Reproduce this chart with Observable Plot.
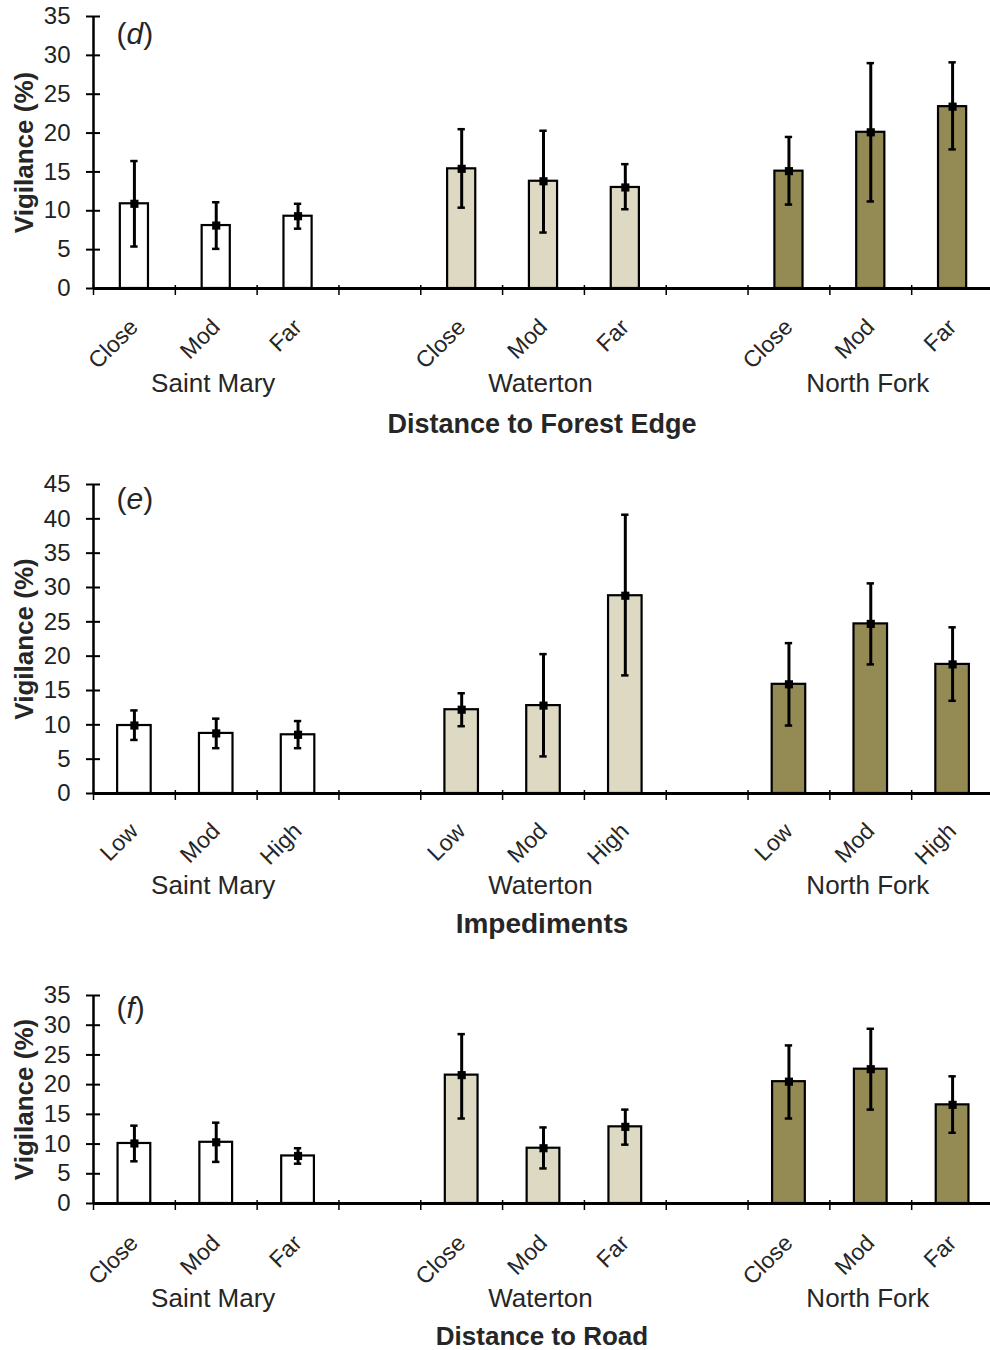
<!DOCTYPE html>
<html><head><meta charset="utf-8">
<script src="https://cdn.jsdelivr.net/npm/d3@7"></script>
<script src="https://cdn.jsdelivr.net/npm/@observablehq/plot@0.6"></script>
<style>
body{margin:0;background:#fff;}
#wrap{position:relative;width:990px;height:1350px;overflow:hidden;background:#fff;}
#wrap svg{position:absolute;left:0;}
</style></head><body><div id="wrap"></div>
<script>
const sites = ["Saint Mary", "Waterton", "North Fork"];
const siteColors = ["#ffffff", "#ddd9c3", "#948a54"];
const levelsDistance = ["Close", "Mod", "Far"];
const levelsImpediment = ["Low", "Mod", "High"];

// (d) Distance to Forest Edge
const meanForest  = [10.9, 8.1, 9.3, 15.4, 13.8, 13.0, 15.1, 20.1, 23.4];
const upperForest = [16.4, 11.1, 10.9, 20.5, 20.3, 16.0, 19.5, 29.0, 29.1];
const lowerForest = [5.4, 5.1, 7.7, 10.4, 7.2, 10.2, 10.8, 11.2, 17.9];
const ticksForest = [0, 5, 10, 15, 20, 25, 30, 35];

// (e) Impediments
const meanImp  = [9.9, 8.75, 8.55, 12.2, 12.8, 28.8, 15.9, 24.7, 18.8];
const upperImp = [12.1, 10.9, 10.55, 14.6, 20.3, 40.6, 21.9, 30.6, 24.2];
const lowerImp = [7.8, 6.6, 6.6, 9.8, 5.4, 17.2, 9.9, 18.8, 13.5];
const ticksImp = [0, 5, 10, 15, 20, 25, 30, 35, 40, 45];

// (f) Distance to Road
const meanRoad  = [10.1, 10.3, 8.0, 21.6, 9.3, 12.9, 20.5, 22.6, 16.6];
const upperRoad = [13.1, 13.6, 9.3, 28.5, 12.8, 15.8, 26.6, 29.4, 21.4];
const lowerRoad = [7.1, 7.0, 6.7, 14.3, 5.9, 9.9, 14.3, 15.8, 11.9];
const ticksRoad = [0, 5, 10, 15, 20, 25, 30, 35];

const panels = [
  {letter: "d", title: "Distance to Forest Edge", titleSize: 27, levels: levelsDistance,
   mean: meanForest, hi: upperForest, lo: lowerForest, ticks: ticksForest,
   top: 0, height: 450, marginTop: 16, marginBottom: 162, half: 0.172,
   catDy: 40, groupDy: 103, titleDy: 144, letterDy: 27},
  {letter: "e", title: "Impediments", titleSize: 28, levels: levelsImpediment,
   mean: meanImp, hi: upperImp, lo: lowerImp, ticks: ticksImp,
   top: 450, height: 500, marginTop: 34, marginBottom: 157, half: 0.205,
   catDy: 39, groupDy: 100, titleDy: 139, letterDy: 24},
  {letter: "f", title: "Distance to Road", titleSize: 26, levels: levelsDistance,
   mean: meanRoad, hi: upperRoad, lo: lowerRoad, ticks: ticksRoad,
   top: 950, height: 400, marginTop: 45, marginBottom: 147, half: 0.2,
   catDy: 41, groupDy: 103, titleDy: 141, letterDy: 22}
];

const wrap = document.getElementById("wrap");
const cap = 0.045;
const textColor = "#262626";

for (const cfg of panels) {
  const rows = cfg.mean.map((m, i) => ({
    site: sites[Math.floor(i / 3)],
    level: cfg.levels[i % 3],
    slot: Math.floor(i / 3) * 4 + (i % 3),
    mean: m, lo: cfg.lo[i], hi: cfg.hi[i]
  }));
  const groups = sites.map((s, k) => ({site: s, slot: k * 4 + 1}));
  const c = d => d.slot + 0.5;
  const yMax = cfg.ticks[cfg.ticks.length - 1];
  const letterText = `(${cfg.letter})`;

  const svg = Plot.plot({
    width: 990, height: cfg.height,
    marginLeft: 93, marginRight: 0, marginTop: cfg.marginTop, marginBottom: cfg.marginBottom,
    style: {fontFamily: "'Liberation Sans', Arial, sans-serif", fontSize: "24px", color: "#222", background: "white", overflow: "visible"},
    x: {domain: [0, 11], range: [93, 993], label: null},
    y: {domain: [0, yMax], label: null},
    color: {domain: sites, range: siteColors},
    marks: [
      Plot.rect(rows, {x1: d => c(d) - cfg.half, x2: d => c(d) + cfg.half, y1: d => 0, y2: "mean", fill: "site", stroke: "black", strokeWidth: 2.2}),
      Plot.ruleX(rows, {x: c, y1: "lo", y2: "hi", stroke: "black", strokeWidth: 3}),
      Plot.ruleY(rows, {x1: d => c(d) - cap, x2: d => c(d) + cap, y: "hi", stroke: "black", strokeWidth: 2.5}),
      Plot.ruleY(rows, {x1: d => c(d) - cap, x2: d => c(d) + cap, y: "lo", stroke: "black", strokeWidth: 2.5}),
      Plot.dot(rows, {x: c, y: "mean", symbol: "square", r: 4.6, fill: "black", stroke: null}),
      Plot.ruleX([0], {stroke: "black", strokeWidth: 2.5}),
      Plot.ruleY([0], {stroke: "black", strokeWidth: 3}),
      Plot.axisY(cfg.ticks, {tickSize: 14, dx: 7, tickFormat: () => "", stroke: "black", strokeWidth: 2, label: null}),
      Plot.axisY(cfg.ticks, {tickSize: 0, tickPadding: 23, fontSize: 24, fill: "#222", label: null}),
      Plot.axisX(d3.range(12), {tickSize: 10, dy: -3, tickFormat: () => "", stroke: "black", strokeWidth: 1.5, label: null}),
      Plot.text(rows, {x: c, text: "level", frameAnchor: "bottom", rotate: -45, textAnchor: "end", lineAnchor: "bottom", dx: 5, dy: cfg.catDy, fontSize: 23, fill: textColor}),
      Plot.text(groups, {x: c, text: "site", frameAnchor: "bottom", lineAnchor: "bottom", dx: -3, dy: cfg.groupDy, fontSize: 26, fill: textColor}),
      Plot.text([cfg.title], {frameAnchor: "bottom", lineAnchor: "bottom", dy: cfg.titleDy, fontSize: cfg.titleSize, fontWeight: "bold", fill: textColor}),
      Plot.text(["Vigilance (%)"], {frameAnchor: "left", textAnchor: "middle", lineAnchor: "middle", rotate: -90, dx: -69, fontSize: 26, fontWeight: "bold", fill: textColor}),
      Plot.text([letterText], {frameAnchor: "top-left", textAnchor: "start", lineAnchor: "bottom", dx: 23, dy: cfg.letterDy, fontSize: 30, fill: textColor})
    ]
  });
  svg.style.top = cfg.top + "px";
  wrap.appendChild(svg);

  const t = Array.from(svg.querySelectorAll("text")).find(el => el.textContent === letterText);
  if (t) {
    const sel = d3.select(t);
    sel.text(null);
    sel.append("tspan").text("(");
    sel.append("tspan").attr("font-style", "italic").text(cfg.letter);
    sel.append("tspan").text(")");
  }
}
</script></body></html>
